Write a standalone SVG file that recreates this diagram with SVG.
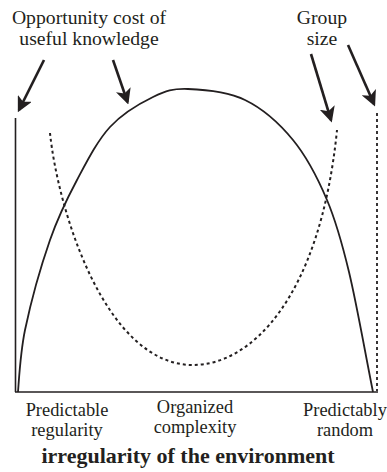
<svg xmlns="http://www.w3.org/2000/svg" width="387" height="472" viewBox="0 0 387 472">
<style>
.t{font-family:"Liberation Serif","Times New Roman",serif;font-size:19.7px;fill:#231f20;text-anchor:middle}
.s{font-size:18.4px}
.b{font-weight:bold;font-size:22px}
.ax{stroke:#231f20;stroke-width:1.6;fill:none}
.sol{stroke:#231f20;stroke-width:1.8;fill:none}
.dot{stroke:#231f20;stroke-width:2;fill:none;stroke-dasharray:3 3}
.arr{stroke:#231f20;stroke-width:2.6;fill:none;marker-end:url(#ah)}
</style>
<defs>
<marker id="ah" markerWidth="6" markerHeight="6" refX="5" refY="3" orient="auto" markerUnits="strokeWidth">
<path d="M0,0 L6,3 L0,6 L1.5,3 Z" fill="#231f20"/>
</marker>
</defs>
<g id="axes">
<line class="ax" x1="15.5" y1="118" x2="15.5" y2="392"/>
<line class="ax" x1="15" y1="392" x2="378" y2="392"/>
<line class="dot" x1="377" y1="113" x2="377" y2="391" style="stroke-width:1.8"/>
</g>
<g id="knowledge-curve">
<path class="sol" d="M18,392 C19.5,372 20.5,352 25,330 C30.3,304.7 41.3,265 50,240 C58.7,215 67,198.8 77,180 C87,161.2 97.3,140.8 110,127 C122.7,113.2 140,103.3 153,97 C166,90.7 172.7,88.5 188,89 C203.3,89.5 227.5,91.5 245,100 C262.5,108.5 279.3,123.3 293,140 C306.7,156.7 317.7,178 327,200 C336.3,222 341.3,240 349,272 C356.7,304 365,352 373,392"/>
</g>
<g id="group-size-curve">
<path class="dot" d="M50,133 C58,210 105,365 193,365 C250,365 320,300 337,130"/>
</g>
<g id="connectors">
<line class="arr" x1="44" y1="60" x2="19" y2="110"/>
<line class="arr" x1="113" y1="60" x2="127.5" y2="102"/>
<line class="arr" x1="311" y1="54" x2="331" y2="120"/>
<line class="arr" x1="348" y1="45" x2="374" y2="104"/>
</g>
<g id="label-opportunity">
<text class="t" x="89" y="24">Opportunity cost of</text>
<text class="t" x="89" y="45">useful knowledge</text>
</g>
<g id="label-group">
<text class="t" x="322" y="24">Group</text>
<text class="t" x="322" y="45">size</text>
</g>
<g id="label-predictable">
<text class="t s" x="67" y="416">Predictable</text>
<text class="t s" x="67" y="436">regularity</text>
</g>
<g id="label-organized">
<text class="t s" x="195" y="413">Organized</text>
<text class="t s" x="195" y="433">complexity</text>
</g>
<g id="label-random">
<text class="t s" x="345" y="416">Predictably</text>
<text class="t s" x="345" y="436">random</text>
</g>
<g id="label-axis">
<text class="t b" x="188" y="463">irregularity of the environment</text>
</g>
</svg>
